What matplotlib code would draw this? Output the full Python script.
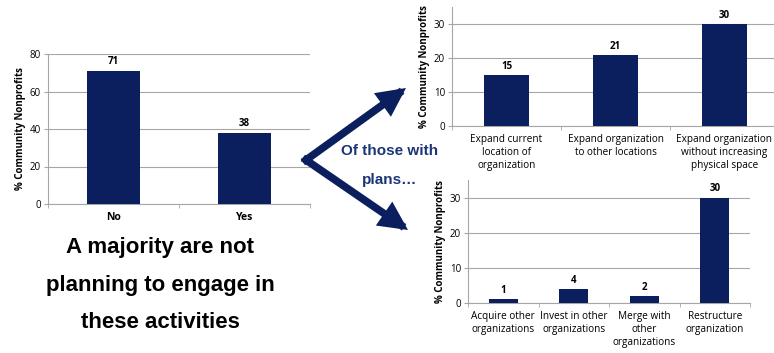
import matplotlib.pyplot as plt
import numpy as np

# plan to engage in expansion / restructuring activities
plan_labels = ["No", "Yes"]
plan_values = [71, 38]

# of those with plans: growth options
grow_labels = ["Expand current\nlocation of\norganization",
               "Expand organization\nto other locations",
               "Expand organization\nwithout increasing\nphysical space"]
grow_values = [15, 21, 30]

# of those with plans: structural options
struct_labels = ["Acquire other\norganizations", "Invest in other\norganizations",
                 "Merge with\nother\norganizations", "Restructure\norganization"]
struct_values = [1, 4, 2, 30]

NAVY = "#0b1f5e"
GRID = "#a6a6a6"
W, H = 774, 353

fig = plt.figure(figsize=(W / 100, H / 100), dpi=100)
plt.rcParams["font.family"] = ["Open Sans", "DejaVu Sans"]


def box(x0, y0, x1, y1):
    # pixel box (top-left origin) -> figure fraction rect
    return [x0 / W, 1 - y1 / H, (x1 - x0) / W, (y1 - y0) / H]


def bar_panel(ax, labels, values, ymax, yticks, bold_x=False, lab_fs=7.2):
    n = len(values)
    x = np.arange(n)
    ax.bar(x, values, width=0.41, color=NAVY, zorder=3)
    for xi, v in zip(x, values):
        ax.text(xi, v + ymax * 0.025, str(v), ha="center", va="bottom",
                fontsize=7, fontweight="bold", color="black")
    ax.set_xlim(-0.5, n - 0.5)
    ax.set_ylim(0, ymax)
    ax.set_yticks(yticks)
    ax.set_xticks(x)
    ax.set_xticklabels(labels, fontsize=lab_fs,
                       fontweight="bold" if bold_x else "normal",
                       linespacing=1.25)
    ax.set_xticks(np.arange(n + 1) - 0.5, minor=True)
    ax.tick_params(axis="x", which="major", length=0, pad=6)
    ax.tick_params(axis="x", which="minor", length=3, color=GRID)
    ax.tick_params(axis="y", length=3, color=GRID, labelsize=7, pad=2)
    ax.yaxis.grid(True, color=GRID, lw=0.8, zorder=0)
    for s in ("top", "right"):
        ax.spines[s].set_visible(False)
    for s in ("left", "bottom"):
        ax.spines[s].set_color(GRID)
    ax.set_ylabel("% Community Nonprofits", fontsize=7, fontweight="bold", labelpad=3)


ax1 = fig.add_axes(box(48, 54, 310, 204))
bar_panel(ax1, plan_labels, plan_values, 80, [0, 20, 40, 60, 80], bold_x=True, lab_fs=7.5)

ax2 = fig.add_axes(box(452, 7, 779, 126))
bar_panel(ax2, grow_labels, grow_values, 35, [0, 10, 20, 30])

ax3 = fig.add_axes(box(468, 180, 750, 303))
bar_panel(ax3, struct_labels, struct_values, 35, [0, 10, 20, 30])

# arrows fanning out to the two breakdowns
vertex = (306 / W, 1 - 160 / H)
for tip in [(406 / W, 1 - 88 / H), (408 / W, 1 - 230 / H)]:
    fig.add_artist(plt.matplotlib.patches.FancyArrowPatch(
        vertex, tip, transform=fig.transFigure, arrowstyle="-|>",
        mutation_scale=30, lw=5.5, color=NAVY, shrinkA=0, shrinkB=0,
        joinstyle="miter", capstyle="projecting"))

fig.text(390 / W, 1 - 151 / H, "Of those with", ha="center", va="center",
         fontsize=11, fontweight="bold", color="#1b3577", family="Liberation Sans")
fig.text(390 / W, 1 - 180 / H, "plans\u2026", ha="center", va="center",
         fontsize=11, fontweight="bold", color="#1b3577", family="Liberation Sans")

for yy, line in zip([248, 286, 322],
                    ["A majority are not", "planning to engage in", "these activities"]):
    fig.text(160 / W, 1 - yy / H, line, ha="center", va="center",
             fontsize=16, fontweight="bold", color="black", family="Liberation Sans")

fig.savefig("out.png", dpi=100)
